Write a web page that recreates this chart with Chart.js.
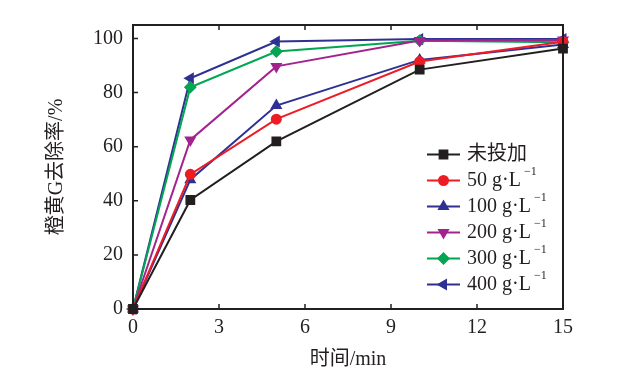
<!DOCTYPE html>
<html><head><meta charset="utf-8">
<script src="https://cdn.jsdelivr.net/npm/chart.js@4/dist/chart.umd.min.js"></script>
<style>html,body{margin:0;padding:0;background:#fff;}#wrap{width:636px;height:381px;}</style>
</head><body><div id="wrap"><canvas id="c" width="636" height="381"></canvas></div>
<script>
const times = [0, 2, 5, 10, 15];
const seriesNames = ["未投加", "50 g·L", "100 g·L", "200 g·L", "300 g·L", "400 g·L"];
const seriesSup = ["", "-1", "-1", "-1", "-1", "-1"];
const s0 = [0, 40.3, 62.0, 88.5, 96.3];
const s50 = [0, 49.8, 70.2, 91.5, 98.8];
const s100 = [0, 47.8, 75.2, 92.1, 97.8];
const s200 = [0, 62.5, 89.7, 99.3, 99.5];
const s300 = [0, 82.0, 95.2, 99.2, 98.6];
const s400 = [0, 85.3, 98.9, 99.8, 99.8];
const xTicks = [0, 3, 6, 9, 12, 15];
const yTicks = [0, 20, 40, 60, 80, 100];

const colors = ["#231f20", "#ed1c24", "#2e3192", "#a3238e", "#00a651", "#2e3192"];
const styles = ["rect", "circle", "triangle", "triangle", "rectRot", "triangle"];
const rots = [0, 0, 0, 180, 0, 270];
const radii = [5.5, 4.5, 5, 5, 5, 5];
const allData = [s0, s50, s100, s200, s300, s400];
const serif = "'Liberation Serif','Times New Roman',serif";
const cjk = "'Liberation Serif','Noto Sans CJK SC',serif";

const datasets = allData.map((d, i) => ({
  label: seriesNames[i] + (seriesSup[i] ? seriesSup[i] : ""),
  data: d.map((v, j) => ({x: times[j], y: v})),
  borderColor: colors[i], backgroundColor: colors[i],
  borderWidth: 2, pointStyle: styles[i], pointRotation: rots[i],
  pointRadius: radii[i], pointHoverRadius: radii[i], clip: false, tension: 0
}));

const framePlugin = {
  id: 'frame',
  afterDatasetsDraw(chart) {
    const ctx = chart.ctx, a = chart.chartArea;
    const xs = chart.scales.x, ys = chart.scales.y;
    ctx.save();
    ctx.strokeStyle = '#231f20'; ctx.lineWidth = 2;
    ctx.strokeRect(a.left, a.top, a.right - a.left, a.bottom - a.top);
    ctx.lineWidth = 1.5;
    ctx.beginPath();
    xTicks.forEach(t => {
      const px = xs.getPixelForValue(t);
      ctx.moveTo(px, a.bottom); ctx.lineTo(px, a.bottom - 5);
      ctx.moveTo(px, a.top); ctx.lineTo(px, a.top + 5);
    });
    yTicks.forEach(t => {
      const py = ys.getPixelForValue(t);
      ctx.moveTo(a.left, py); ctx.lineTo(a.left + 5, py);
    });
    ctx.stroke();
    // legend
    const lx0 = 427, lx1 = 460, tx = 467;
    const top0 = a.top + 129.5, step = 26;
    chart.data.datasets.forEach((ds, i) => {
      const y = top0 + i * step;
      ctx.strokeStyle = ds.borderColor; ctx.lineWidth = 2;
      ctx.beginPath(); ctx.moveTo(lx0, y); ctx.lineTo(lx1, y); ctx.stroke();
      ctx.fillStyle = ds.backgroundColor;
      Chart.helpers.drawPoint(ctx, {pointStyle: ds.pointStyle, rotation: ds.pointRotation, radius: ds.pointRadius, borderWidth: 1}, (lx0 + lx1) / 2, y);
      ctx.fillStyle = '#231f20';
      ctx.textBaseline = 'middle'; ctx.textAlign = 'left';
      ctx.font = "20px " + cjk;
      ctx.fillText(seriesNames[i], tx, y);
      if (seriesSup[i]) {
        const w = ctx.measureText(seriesNames[i]).width;
        ctx.font = "12px " + serif;
        ctx.fillText("\u2212" + "1", tx + w + 3, y - 9);
      }
    });
    ctx.restore();
  }
};

new Chart(document.getElementById('c'), {
  type: 'line',
  data: {datasets},
  options: {
    responsive: false, animation: false, devicePixelRatio: 1,
    layout: {padding: {left: 0, right: 73, top: 25, bottom: 0}},
    plugins: {legend: {display: false}, tooltip: {enabled: false}},
    scales: {
      x: {
        type: 'linear', min: 0, max: 15,
        afterBuildTicks: s => { s.ticks = xTicks.map(v => ({value: v})); },
        afterFit: s => { s.height = 72; },
        grid: {display: false, drawTicks: false},
        border: {display: false},
        ticks: {color: '#231f20', font: {family: serif, size: 20}, padding: 7, maxRotation: 0, autoSkip: false},
        title: {display: true, text: '时间/min', color: '#231f20', font: {family: cjk, size: 20}, padding: {top: 0, bottom: 9}}
      },
      y: {
        type: 'linear', min: 0, max: 105,
        afterBuildTicks: s => { s.ticks = yTicks.map(v => ({value: v})); },
        afterFit: s => { s.width = 133; },
        grid: {display: false, drawTicks: false},
        border: {display: false},
        ticks: {color: '#231f20', font: {family: serif, size: 20}, padding: 10},
        title: {display: true, text: '橙黄G去除率/%', color: '#231f20', font: {family: cjk, size: 20}, padding: {top: 45, bottom: 0}}
      }
    }
  },
  plugins: [framePlugin]
});
</script></body></html>
